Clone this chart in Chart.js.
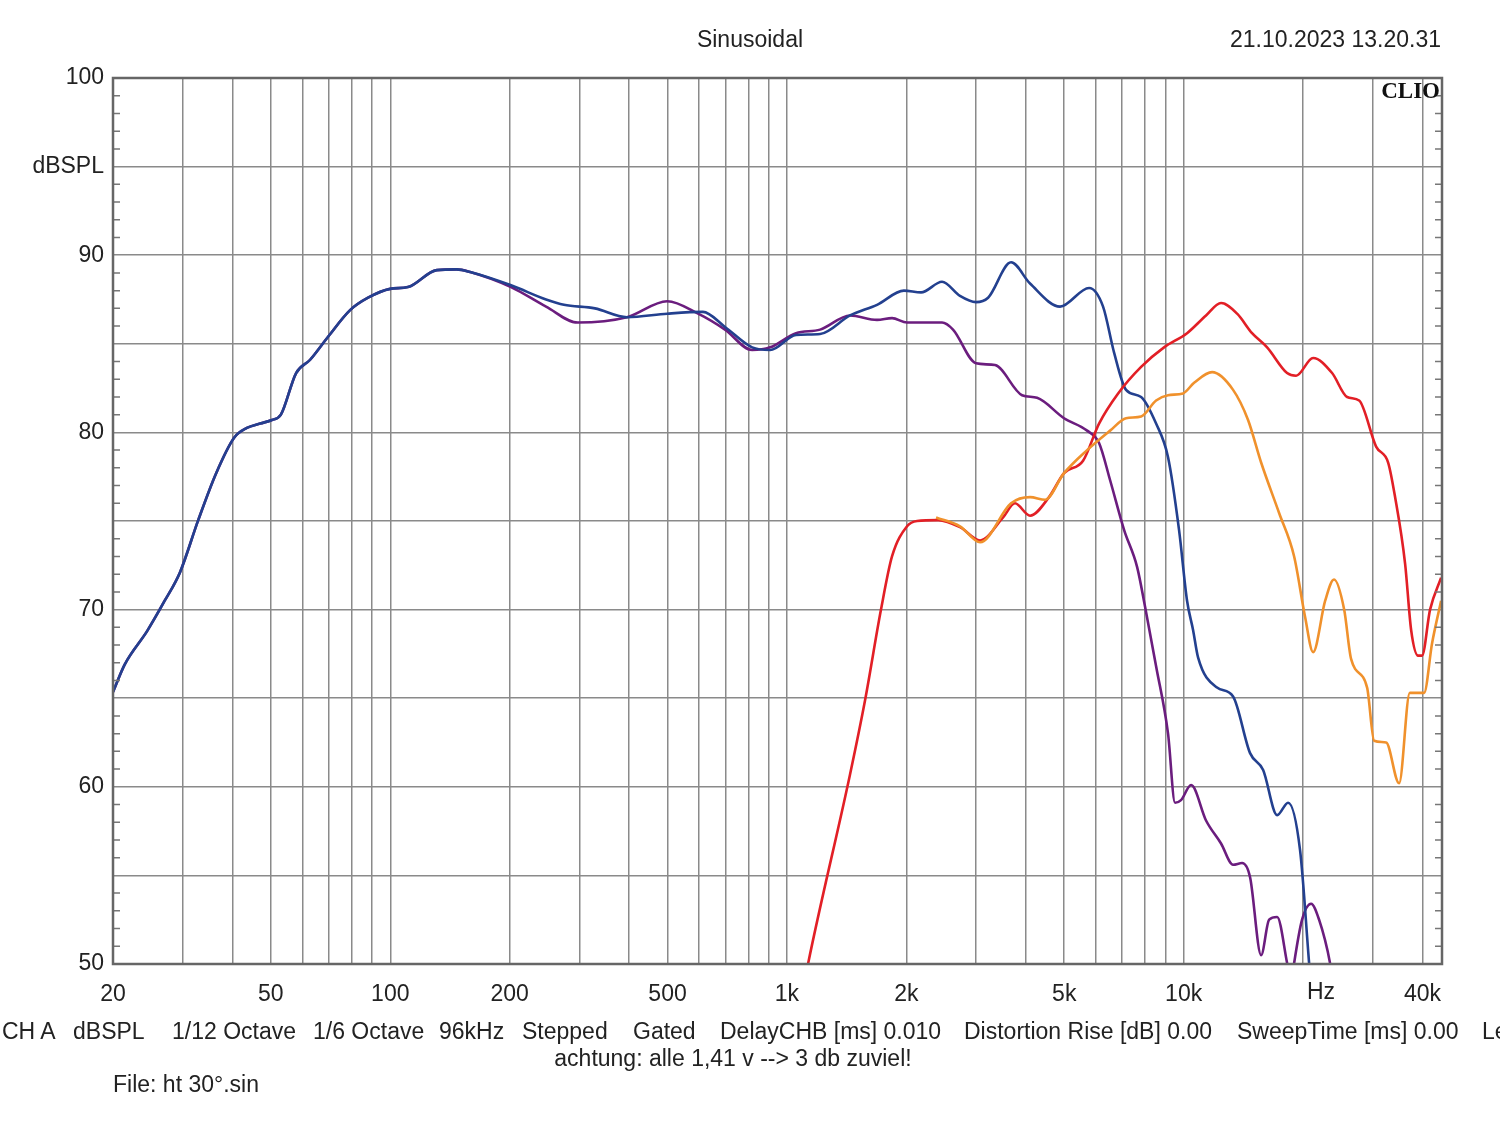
<!DOCTYPE html>
<html>
<head>
<meta charset="utf-8">
<script src="https://cdn.jsdelivr.net/npm/chart.js@4"></script>
<style>
  body { margin: 0; background: #fff; }
  #wrap { position: relative; width: 1500px; height: 1121px; overflow: hidden; font-family: "Liberation Sans", Arial, sans-serif; color: #222; }
  canvas { position: absolute; left: 0; top: 0; }
  .txt { position: absolute; font-size: 23px; white-space: nowrap; line-height: 1; }
  .clio { font-family: "Liberation Serif", "DejaVu Serif", serif; font-weight: bold; font-size: 23px; color: #111; }
</style>
</head>
<body>
<div id="wrap">
  <canvas id="chart" width="1500" height="1121"></canvas>
  <div class="txt" style="left:0;width:1500px;text-align:center;top:28px;padding-left:0">Sinusoidal</div>
  <div class="txt" style="right:59px;top:28px">21.10.2023 13.20.31</div>
  <div class="txt clio" style="right:60px;top:79px">CLIO</div>
  <div class="txt" style="left:2px;top:1020px">CH A</div>
  <div class="txt" style="left:73px;top:1020px">dBSPL</div>
  <div class="txt" style="left:172px;top:1020px">1/12 Octave</div>
  <div class="txt" style="left:313px;top:1020px">1/6 Octave</div>
  <div class="txt" style="left:439px;top:1020px">96kHz</div>
  <div class="txt" style="left:522px;top:1020px">Stepped</div>
  <div class="txt" style="left:633px;top:1020px">Gated</div>
  <div class="txt" style="left:720px;top:1020px">DelayCHB [ms] 0.010</div>
  <div class="txt" style="left:964px;top:1020px">Distortion Rise [dB] 0.00</div>
  <div class="txt" style="left:1237px;top:1020px">SweepTime [ms] 0.00</div>
  <div class="txt" style="left:1482px;top:1020px">Level</div>
  <div class="txt" style="left:0;width:1466px;text-align:center;top:1047px">achtung: alle 1,41 v --&gt; 3 db zuviel!</div>
  <div class="txt" style="left:113px;top:1073px">File: ht 30°.sin</div>
</div>
<script>
// frequency grid and labels
const gridFreqs = [20, 30, 40, 50, 60, 70, 80, 90, 100, 200, 300, 400, 500, 600, 700, 800, 900,
  1000, 2000, 3000, 4000, 5000, 6000, 7000, 8000, 9000, 10000, 20000, 30000, 40000];
const freqLabels = { 20: "20", 50: "50", 100: "100", 200: "200", 500: "500", 1000: "1k",
  2000: "2k", 5000: "5k", 10000: "10k", 40000: "40k" };

// blue
const blueF = [20, 21.4, 24.4, 27, 29.5, 32.8, 36.4, 40.4, 43.5, 47, 50.3, 53, 57.9, 62.8, 69.7, 79.2, 87.9,
  99.9, 110.8, 131, 147, 159, 201.6, 247, 274, 328, 395, 499, 614, 698, 817, 907, 1054, 1212, 1442, 1687,
  1972, 2178, 2460, 2730, 2996, 3214, 3672, 4100, 4880, 5776, 6264, 6678, 7158, 7812, 8522, 9134, 9736,
  10200, 10562, 10872, 12140, 13324, 14704, 15864, 17208, 18336, 19660, 20712, 21072];
const blueDb = [65.35, 66.9, 68.8, 70.5, 72.1, 75.05, 77.7, 79.7, 80.25, 80.5, 80.7, 81.0, 83.35, 84.1, 85.4, 86.9, 87.6,
  88.1, 88.2, 89.16, 89.2, 89.05, 88.3, 87.5, 87.2, 87.0, 86.5, 86.7, 86.8, 85.95, 84.8, 84.65, 85.5, 85.55, 86.6, 87.2,
  88.0, 87.9, 88.5, 87.7, 87.35, 87.6, 89.6, 88.4, 87.1, 88.15, 87.1, 84.5, 82.4, 82.0, 80.5, 78.6, 74.5,
  70.5, 68.85, 67.3, 65.6, 65.1, 61.9, 60.95, 58.4, 59.1, 56.4, 50.06, 48];

// purple
const purpleF = [20, 21.4, 24.4, 27, 29.5, 32.8, 36.4, 40.4, 43.5, 47, 50.3, 53, 57.9, 62.8, 69.7, 79.2, 87.9,
  99.9, 110.8, 131, 147, 159, 201.6, 247, 297, 395, 499, 597, 698, 817, 907, 1054, 1212, 1442, 1687, 1840,
  2008, 2460, 2622, 2996, 3346, 3914, 4270, 4994, 5710, 6120, 6526, 7076, 7634, 7996, 8522, 9134, 9512,
  9848, 10444, 11388, 12424, 13324, 14040, 14704, 15678, 16424, 17208, 18230, 18660, 18990, 19886, 20952,
  21948, 23390, 23940];
const purpleDb = [65.35, 66.9, 68.8, 70.5, 72.1, 75.05, 77.7, 79.7, 80.25, 80.5, 80.7, 81.0, 83.35, 84.1, 85.4, 86.9, 87.6,
  88.1, 88.2, 89.16, 89.2, 89.05, 88.2, 87.1, 86.2, 86.5, 87.4, 86.7, 85.8, 84.65, 84.8, 85.6, 85.8, 86.6, 86.35, 86.45,
  86.2, 86.2, 85.8, 83.9, 83.8, 82.1, 81.95, 80.8, 80.1, 79.4, 77.3, 74.5, 72.4, 70.15, 66.8, 63.0, 59.1,
  59.25, 60.1, 58.1, 56.8, 55.6, 55.7, 54.9, 50.5, 52.5, 52.65, 50.05, 48.8, 50.05, 52.5, 53.4,
  52.5, 50.05, 48.5];

// red
const redF = [1104, 1130, 1442, 1574, 1726, 1840, 2008, 2128, 2404, 2730, 3068, 3506, 3756, 4100, 4578, 4994,
  5578, 6120, 6836, 7812, 8924, 10200, 11388, 12424, 13638, 14874, 16234, 18230, 19206, 21200, 23672,
  25824, 27698, 30560, 32770, 34120, 36160, 37450, 38996, 39900, 41800, 44570];
const redDb = [48.8, 50.0, 60.7, 64.9, 70.0, 73.0, 74.7, 75.0, 75.05, 74.65, 73.9, 75.2, 76.0, 75.3, 76.35, 77.7,
  78.4, 80.5, 82.2, 83.7, 84.8, 85.6, 86.6, 87.3, 86.7, 85.6, 84.8, 83.35, 83.2, 84.2, 83.35,
  82.0, 81.8, 79.2, 78.3, 76.35, 72.6, 68.85, 67.4, 67.4, 70.0, 71.8];

// orange
const orangeF = [2376, 2730, 3068, 3672, 4100, 4474, 4994, 5710, 6526, 7158, 7812, 8522, 9134, 9966, 10626,
  11796, 13324, 14534, 15678, 17404, 18990, 20232, 21200, 22740, 23940, 25388, 26438, 29006, 30212,
  32390, 34928, 37160, 40380, 42292, 44570];
const orangeDb = [75.2, 74.7, 73.8, 76.0, 76.35, 76.2, 77.7, 79.0, 80.1, 80.8, 80.9, 81.8, 82.1, 82.2, 82.8,
  83.4, 82.4, 80.7, 78.3, 75.45, 73.0, 69.6, 67.6, 70.5, 71.7, 70.0, 67.2, 65.6, 62.6,
  62.5, 60.2, 65.3, 65.3, 68.1, 70.5];

function points(fs, dbs) {
  let out = [];
  for (let i = 0; i < fs.length; i++) {
    out.push({ x: fs[i], y: dbs[i] });
  }
  return out;
}

function line(label, fs, dbs, color, order) {
  return {
    label: label,
    data: points(fs, dbs),
    borderColor: color,
    borderWidth: 2.6,
    pointRadius: 0,
    fill: false,
    cubicInterpolationMode: "monotone",
    order: order
  };
}

// small inner ticks on the y edges, the "Hz" unit label and a darker frame
const extras = {
  id: "extras",
  afterDraw: function (chart) {
    let ctx = chart.ctx;
    let a = chart.chartArea;
    let y = chart.scales.y;
    ctx.save();
    ctx.strokeStyle = "#777";
    ctx.lineWidth = 1.5;
    for (let v = 51; v < 100; v++) {
      if (v % 5 === 0) continue;
      let py = y.getPixelForValue(v);
      ctx.beginPath();
      ctx.moveTo(a.left, py); ctx.lineTo(a.left + 7, py);
      ctx.moveTo(a.right - 7, py); ctx.lineTo(a.right, py);
      ctx.stroke();
    }
    ctx.strokeStyle = "#666";
    ctx.lineWidth = 2.5;
    ctx.strokeRect(a.left, a.top, a.right - a.left, a.bottom - a.top);
    ctx.fillStyle = "#222";
    ctx.font = "23px 'Liberation Sans', Arial, sans-serif";
    ctx.textAlign = "center";
    ctx.textBaseline = "middle";
    ctx.fillText("Hz", chart.scales.x.getPixelForValue(20000) + 18, 993);
    ctx.restore();
  }
};

new Chart(document.getElementById("chart"), {
  type: "line",
  data: {
    datasets: [
      line("purple", purpleF, purpleDb, "#6b1d7e", 4),
      line("blue", blueF, blueDb, "#23408f", 3),
      line("red", redF, redDb, "#e21f26", 2),
      line("orange", orangeF, orangeDb, "#f0912c", 1)
    ]
  },
  options: {
    responsive: false,
    animation: false,
    events: [],
    layout: { padding: { top: 78, right: 58, bottom: 107, left: 0 } },
    plugins: { legend: { display: false }, tooltip: { enabled: false } },
    scales: {
      x: {
        type: "logarithmic",
        min: 20,
        max: 44800,
        afterBuildTicks: function (scale) {
          scale.ticks = gridFreqs.map(function (v) { return { value: v }; });
        },
        afterFit: function (scale) { scale.height = 50; },
        grid: { color: "#8a8a8a", lineWidth: 1.5, drawTicks: false },
        border: { display: false },
        ticks: {
          autoSkip: false,
          maxRotation: 0,
          padding: 17,
          color: "#222",
          font: { family: "'Liberation Sans', Arial, sans-serif", size: 23 },
          callback: function (value) { return freqLabels[value] || ""; }
        }
      },
      y: {
        min: 50,
        max: 100,
        afterFit: function (scale) { scale.width = 113; },
        grid: {
          drawTicks: false,
          lineWidth: 1.5,
          color: function (c) { return c.tick.value % 5 === 0 ? "#8a8a8a" : "rgba(0,0,0,0)"; }
        },
        border: { display: false },
        ticks: {
          stepSize: 1,
          autoSkip: false,
          padding: 9,
          color: "#222",
          font: { family: "'Liberation Sans', Arial, sans-serif", size: 23 },
          callback: function (value) {
            if (value === 95) return "dBSPL";
            if (value % 10 === 0) return String(value);
            return "";
          }
        }
      }
    }
  },
  plugins: [extras]
});
</script>
</body>
</html>
